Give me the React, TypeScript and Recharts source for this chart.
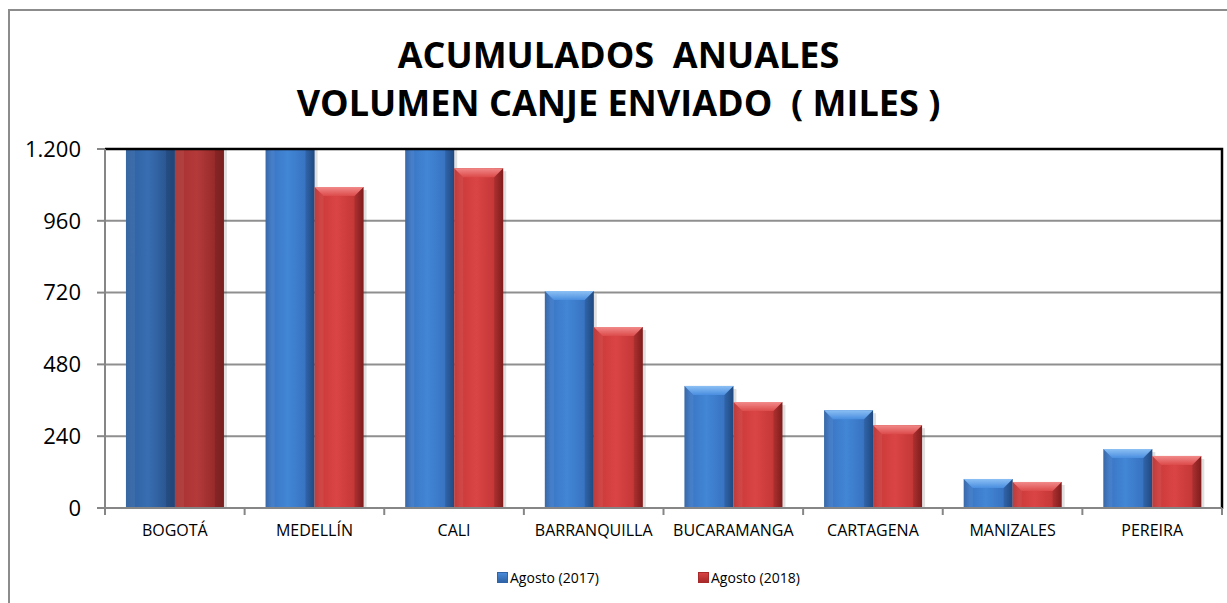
import React from 'react';
import { BarChart, Bar, XAxis, YAxis, CartesianGrid, Legend, Cell, ReferenceLine } from 'recharts';

const categories = ['BOGOTÁ', 'MEDELLÍN', 'CALI', 'BARRANQUILLA', 'BUCARAMANGA', 'CARTAGENA', 'MANIZALES', 'PEREIRA'];
const agosto2017 = [1450, 1300, 1280, 725, 408, 327, 97, 197];
const agosto2018 = [1380, 1073, 1136, 605, 354, 277, 87, 174];
const yTicks = [0, 240, 480, 720, 960, 1200];
const seriesNames = ['Agosto (2017)', 'Agosto (2018)'];
const titleLines = ['ACUMULADOS  ANUALES', 'VOLUMEN CANJE ENVIADO  ( MILES )'];

const data = categories.map((c, i) => ({ cat: c, a2017: agosto2017[i], a2018: agosto2018[i] }));

const CHART_W = 1217;
const CHART_H = 592;
const MARGIN = { top: 138, right: 5, left: 0, bottom: 16 };
const Y_W = 95;
const X_H = 59;
const LEG_H = 20;
const PLOT_W = CHART_W - MARGIN.left - MARGIN.right - Y_W;
const PLOT_H = CHART_H - MARGIN.top - MARGIN.bottom - X_H - LEG_H;
const BAND = PLOT_W / categories.length;
const FONT = '"Open Sans", "Liberation Sans", sans-serif';

const fmt = (v: number) => String(v).replace(/\B(?=(\d{3})+(?!\d))/g, '.');

const makeShape = (topFill: string) => (props: any) => {
  const { x, y, width, height, fill } = props;
  if (!height || height <= 0) return null;
  const b = Math.min(9, height / 2);
  return (
    <g>
      <rect x={x + 3} y={y + 3} width={width} height={height - 3} fill="rgba(0,0,0,0.12)" />
      <rect x={x} y={y} width={width} height={height} fill={fill} />
      <polygon points={`${x},${y} ${x + width},${y} ${x + width - b},${y + b} ${x + b},${y + b}`} fill={topFill} />
      <polygon points={`${x},${y} ${x + b},${y + b} ${x + b},${y + height} ${x},${y + height}`} fill="rgba(255,255,255,0.06)" />
      <polygon points={`${x + width},${y} ${x + width - b},${y + b} ${x + width - b},${y + height} ${x + width},${y + height}`} fill="rgba(0,0,0,0.10)" />
    </g>
  );
};

const BlueShape = makeShape('url(#blueTop)');
const RedShape = makeShape('url(#redTop)');

const FrameLine = (props: any) => {
  const { x1, y1, x2 } = props;
  if (x1 == null || y1 == null || x2 == null) return null;
  return (
    <path
      d={`M${x1},${y1} H${x2} V${y1 + PLOT_H + 1}`}
      fill="none"
      stroke="#000"
      strokeWidth={2.5}
    />
  );
};

const XTick = (props: any) => {
  const { x, y, payload, index } = props;
  return (
    <g>
      <line x1={x + BAND / 2} x2={x + BAND / 2} y1={y} y2={y + 7} stroke="#868686" strokeWidth={2} />
      {index === 0 && <line x1={x - BAND / 2} x2={x - BAND / 2} y1={y} y2={y + 7} stroke="#868686" strokeWidth={2} />}
      <text x={x} y={y + 24} textAnchor="middle" dominantBaseline="middle" fontSize={16} fontFamily={FONT} fill="#000">
        {payload.value}
      </text>
    </g>
  );
};

const LegendContent = () => {
  const colors = [
    ['#2f64a8', '#4a8ad8'],
    ['#a82a2a', '#d84444'],
  ];
  return (
    <div style={{ position: 'relative', height: LEG_H, fontFamily: FONT, fontSize: 14, color: '#000' }}>
      {seriesNames.map((n, i) => (
        <div key={n} style={{ position: 'absolute', left: 487 + i * 201, top: 0, height: LEG_H, display: 'flex', alignItems: 'center', whiteSpace: 'nowrap' }}>
          <span style={{ display: 'inline-block', width: 9, height: 9, marginRight: 2, background: `linear-gradient(180deg, ${colors[i][1]}, ${colors[i][0]})`, border: `1px solid ${colors[i][0]}` }} />
          <span>{n}</span>
        </div>
      ))}
    </div>
  );
};

export default function App() {
  return (
    <>
      <style>{'html,body{margin:0;padding:0;overflow:hidden;background:#fff}'}</style>
      <div style={{ position: 'absolute', left: 8, top: 9, width: CHART_W, height: CHART_H, borderLeft: '2px solid #8c8c8c', borderTop: '2px solid #8c8c8c', background: '#fff' }}>
        <div style={{ position: 'absolute', left: 0, top: 20, width: CHART_W, textAlign: 'center', fontFamily: FONT, fontWeight: 700, fontSize: 36, lineHeight: '48px', color: '#000', whiteSpace: 'pre', zIndex: 2 }}>
          {titleLines.map((t) => (
            <div key={t}>{t}</div>
          ))}
        </div>
        <BarChart width={CHART_W} height={CHART_H} data={data} margin={MARGIN} barCategoryGap="15%" barGap={0}>
          <defs>
            <linearGradient id="blueGrad" x1="0" y1="0" x2="1" y2="0">
              <stop offset="0%" stopColor="#2c5fa2" />
              <stop offset="12%" stopColor="#3a76c4" />
              <stop offset="45%" stopColor="#4286d6" />
              <stop offset="80%" stopColor="#3874c2" />
              <stop offset="100%" stopColor="#24518e" />
            </linearGradient>
            <linearGradient id="blueGradDark" x1="0" y1="0" x2="1" y2="0">
              <stop offset="0%" stopColor="#2c5e9e" />
              <stop offset="45%" stopColor="#386eb2" />
              <stop offset="100%" stopColor="#254c84" />
            </linearGradient>
            <linearGradient id="redGrad" x1="0" y1="0" x2="1" y2="0">
              <stop offset="0%" stopColor="#b83030" />
              <stop offset="12%" stopColor="#cc3a3a" />
              <stop offset="45%" stopColor="#da4444" />
              <stop offset="80%" stopColor="#c63838" />
              <stop offset="100%" stopColor="#8e2020" />
            </linearGradient>
            <linearGradient id="redGradDark" x1="0" y1="0" x2="1" y2="0">
              <stop offset="0%" stopColor="#a83030" />
              <stop offset="45%" stopColor="#b43a3a" />
              <stop offset="100%" stopColor="#882222" />
            </linearGradient>
            <linearGradient id="blueTop" x1="0" y1="0" x2="0" y2="1">
              <stop offset="0%" stopColor="#8cc0f4" />
              <stop offset="100%" stopColor="#4a8ee0" />
            </linearGradient>
            <linearGradient id="redTop" x1="0" y1="0" x2="0" y2="1">
              <stop offset="0%" stopColor="#f28a8a" />
              <stop offset="100%" stopColor="#dc4a4a" />
            </linearGradient>
          </defs>
          <CartesianGrid vertical={false} stroke="#8f8f8f" strokeWidth={2} />
          <XAxis
            dataKey="cat"
            height={X_H}
            tickSize={0}
            tickMargin={0}
            interval={0}
            axisLine={{ stroke: '#868686', strokeWidth: 2 }}
            tickLine={false}
            tick={<XTick />}
          />
          <YAxis
            width={Y_W}
            domain={[0, 1200]}
            ticks={yTicks}
            allowDataOverflow
            tickFormatter={fmt}
            tickSize={8}
            tickMargin={16}
            axisLine={{ stroke: '#868686', strokeWidth: 2 }}
            tickLine={{ stroke: '#868686', strokeWidth: 2 }}
            tick={{ fill: '#000', fontSize: 22, fontFamily: FONT }}
          />
          <Bar dataKey="a2017" name={seriesNames[0]} fill="url(#blueGrad)" shape={BlueShape} isAnimationActive={false}>
            {data.map((d, i) => (
              <Cell key={d.cat} fill={i === 0 ? 'url(#blueGradDark)' : 'url(#blueGrad)'} />
            ))}
          </Bar>
          <Bar dataKey="a2018" name={seriesNames[1]} fill="url(#redGrad)" shape={RedShape} isAnimationActive={false}>
            {data.map((d, i) => (
              <Cell key={d.cat} fill={i === 0 ? 'url(#redGradDark)' : 'url(#redGrad)'} />
            ))}
          </Bar>
          <ReferenceLine y={1200} stroke="#000" strokeWidth={2} ifOverflow="visible" shape={(p: any) => <FrameLine {...p} />} />
          <Legend verticalAlign="bottom" height={LEG_H} wrapperStyle={{ left: 0, width: CHART_W, height: LEG_H }} content={<LegendContent />} />
        </BarChart>
      </div>
    </>
  );
}
